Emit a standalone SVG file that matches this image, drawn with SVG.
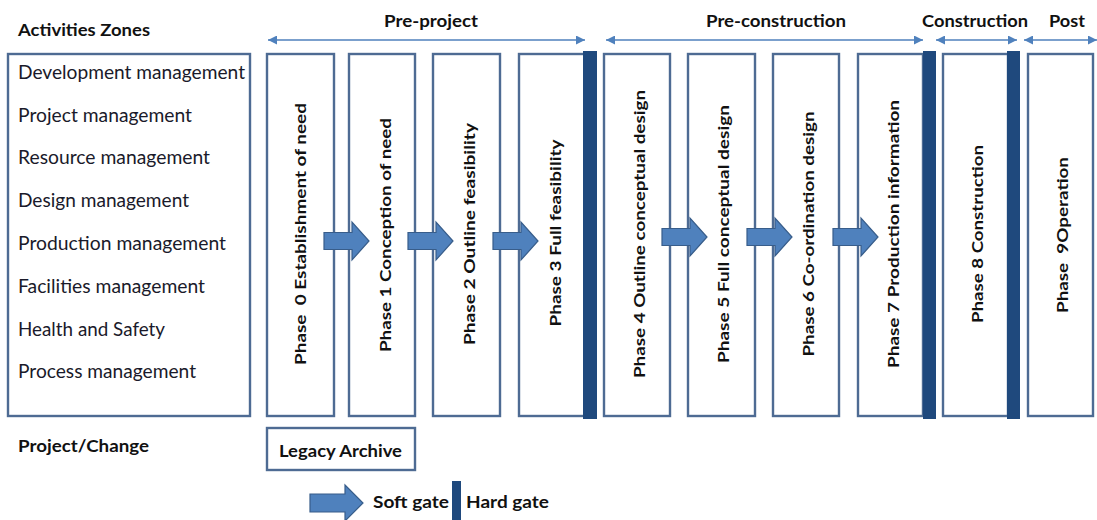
<svg xmlns="http://www.w3.org/2000/svg" width="1097" height="520" viewBox="0 0 1097 520">
  <defs>
    <style>
      .hdr { font-family: Lato, "Liberation Sans", Arial, sans-serif; font-weight: bold; font-size: 17.5px; fill: #111; }
      .item { font-family: Lato, "Liberation Sans", Arial, sans-serif; font-size: 18.5px; fill: #1a1a2a; }
      .ph { font-family: Lato, "Liberation Sans", Arial, sans-serif; font-weight: bold; font-size: 16px; fill: #111; white-space: pre; }
      .box { fill: #ffffff; stroke: #4e6b93; stroke-width: 2.4; }
      .hard { fill: #1f497d; }
      .soft { fill: #4f81bd; stroke: #385d8a; stroke-width: 1.2; }
      .span { stroke: #4f81bd; stroke-width: 1.5; fill: none; marker-start: url(#tip); marker-end: url(#tip); }
    </style>
    <marker id="tip" viewBox="0 0 10 10" refX="10" refY="5" markerWidth="9" markerHeight="9" markerUnits="userSpaceOnUse" orient="auto-start-reverse">
      <path d="M0,0 L10,5 L0,10 Z" fill="#4f81bd"/>
    </marker>
    <!-- block arrow used for soft gates, tip at (0,0) -->
    <path id="softArrow" d="M-45,-8.5 L-17,-8.5 L-17,-19 L0,0 L-17,19 L-17,8.5 L-45,8.5 Z"/>
  </defs>

  <!-- headings -->
  <g id="headings">
    <text class="hdr" x="18" y="36" textLength="132" lengthAdjust="spacingAndGlyphs">Activities Zones</text>
    <text class="hdr" x="384" y="27" textLength="94" lengthAdjust="spacingAndGlyphs">Pre-project</text>
    <text class="hdr" x="706" y="27" textLength="140" lengthAdjust="spacingAndGlyphs">Pre-construction</text>
    <text class="hdr" x="922" y="27" textLength="106" lengthAdjust="spacingAndGlyphs">Construction</text>
    <text class="hdr" x="1049" y="27" textLength="36" lengthAdjust="spacingAndGlyphs">Post</text>
  </g>

  <!-- stage spans -->
  <g id="connectors">
    <line class="span" x1="268" y1="40" x2="585" y2="40"/>
    <line class="span" x1="606" y1="40" x2="923" y2="40"/>
    <line class="span" x1="936" y1="40" x2="1017" y2="40"/>
    <line class="span" x1="1024" y1="40" x2="1097" y2="40"/>
  </g>

  <!-- activity zones -->
  <g id="zones">
    <rect class="box" x="8" y="54" width="242" height="362"/>
    <text class="item" x="18" y="79" textLength="227" lengthAdjust="spacingAndGlyphs">Development management</text>
    <text class="item" x="18" y="122" textLength="174" lengthAdjust="spacingAndGlyphs">Project management</text>
    <text class="item" x="18" y="164" textLength="192" lengthAdjust="spacingAndGlyphs">Resource management</text>
    <text class="item" x="18" y="207" textLength="171" lengthAdjust="spacingAndGlyphs">Design management</text>
    <text class="item" x="18" y="250" textLength="208" lengthAdjust="spacingAndGlyphs">Production management</text>
    <text class="item" x="18" y="293" textLength="187" lengthAdjust="spacingAndGlyphs">Facilities management</text>
    <text class="item" x="18" y="336" textLength="147" lengthAdjust="spacingAndGlyphs">Health and Safety</text>
    <text class="item" x="18" y="378" textLength="178" lengthAdjust="spacingAndGlyphs">Process management</text>
  </g>

  <!-- phases -->
  <g id="phase0">
    <rect class="box" x="267" y="54" width="67" height="362"/>
    <text class="ph" transform="translate(305.5,234) rotate(-90)" text-anchor="middle" textLength="262" lengthAdjust="spacingAndGlyphs">Phase  0 Establishment of need</text>
  </g>
  <g id="phase1">
    <rect class="box" x="349" y="54" width="66" height="362"/>
    <text class="ph" transform="translate(390.5,235) rotate(-90)" text-anchor="middle" textLength="234" lengthAdjust="spacingAndGlyphs">Phase 1 Conception of need</text>
  </g>
  <g id="phase2">
    <rect class="box" x="433" y="54" width="67" height="362"/>
    <text class="ph" transform="translate(474.5,234) rotate(-90)" text-anchor="middle" textLength="222" lengthAdjust="spacingAndGlyphs">Phase 2 Outline feasibility</text>
  </g>
  <g id="phase3">
    <rect class="box" x="519" y="54" width="66" height="362"/>
    <text class="ph" transform="translate(560.5,233) rotate(-90)" text-anchor="middle" textLength="187" lengthAdjust="spacingAndGlyphs">Phase 3 Full feasibility</text>
  </g>
  <g id="phase4">
    <rect class="box" x="604" y="54" width="66" height="362"/>
    <text class="ph" transform="translate(644.5,234) rotate(-90)" text-anchor="middle" textLength="288" lengthAdjust="spacingAndGlyphs">Phase 4 Outline conceptual design</text>
  </g>
  <g id="phase5">
    <rect class="box" x="688" y="54" width="67" height="362"/>
    <text class="ph" transform="translate(728.5,234) rotate(-90)" text-anchor="middle" textLength="258" lengthAdjust="spacingAndGlyphs">Phase 5 Full conceptual design</text>
  </g>
  <g id="phase6">
    <rect class="box" x="773" y="54" width="66" height="362"/>
    <text class="ph" transform="translate(813.5,234) rotate(-90)" text-anchor="middle" textLength="245" lengthAdjust="spacingAndGlyphs">Phase 6 Co-ordination design</text>
  </g>
  <g id="phase7">
    <rect class="box" x="858" y="54" width="65" height="362"/>
    <text class="ph" transform="translate(898.5,234) rotate(-90)" text-anchor="middle" textLength="268" lengthAdjust="spacingAndGlyphs">Phase 7 Production information</text>
  </g>
  <g id="phase8">
    <rect class="box" x="943" y="54" width="65" height="362"/>
    <text class="ph" transform="translate(982.5,234) rotate(-90)" text-anchor="middle" textLength="178" lengthAdjust="spacingAndGlyphs">Phase 8 Construction</text>
  </g>
  <g id="phase9">
    <rect class="box" x="1028" y="54" width="65" height="362"/>
    <text class="ph" transform="translate(1067.5,235) rotate(-90)" text-anchor="middle" textLength="156" lengthAdjust="spacingAndGlyphs">Phase  9Operation</text>
  </g>

  <!-- hard gates -->
  <g id="hard-gates">
    <rect class="hard" x="583" y="51" width="14" height="368"/>
    <rect class="hard" x="923" y="51" width="13" height="368"/>
    <rect class="hard" x="1007" y="51" width="13" height="368"/>
  </g>

  <!-- soft gates -->
  <g id="soft-gates">
    <use href="#softArrow" class="soft" transform="translate(369,241)"/>
    <use href="#softArrow" class="soft" transform="translate(453,241)"/>
    <use href="#softArrow" class="soft" transform="translate(538,241)"/>
    <use href="#softArrow" class="soft" transform="translate(707,237)"/>
    <use href="#softArrow" class="soft" transform="translate(792,237)"/>
    <use href="#softArrow" class="soft" transform="translate(878,237)"/>
  </g>

  <!-- project / change row -->
  <g id="project-change">
    <text class="hdr" x="18" y="452" textLength="131" lengthAdjust="spacingAndGlyphs">Project/Change</text>
  </g>
  <g id="legacy-archive">
    <rect class="box" x="267" y="428" width="148" height="42"/>
    <text class="hdr" x="279" y="457" textLength="123" lengthAdjust="spacingAndGlyphs">Legacy Archive</text>
  </g>

  <!-- legend -->
  <g id="legend">
    <path class="soft" d="M310,494 L345,494 L345,485 L363,503 L345,521 L345,512 L310,512 Z"/>
    <text class="hdr" x="373" y="508" textLength="76" lengthAdjust="spacingAndGlyphs">Soft gate</text>
    <rect class="hard" x="452" y="481" width="9" height="39"/>
    <text class="hdr" x="466" y="508" textLength="83" lengthAdjust="spacingAndGlyphs">Hard gate</text>
  </g>
</svg>
